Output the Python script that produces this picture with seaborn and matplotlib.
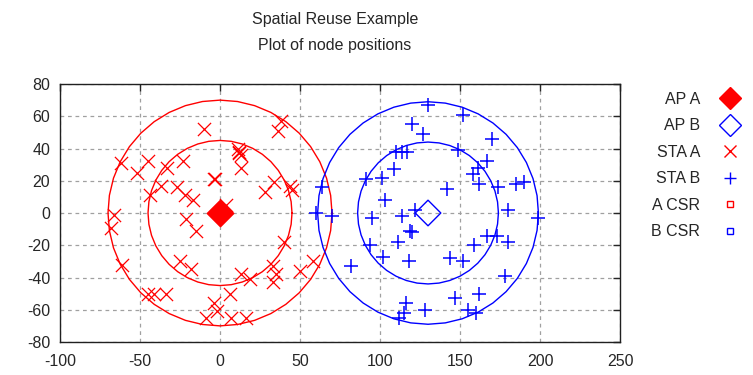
import numpy as np
import pandas as pd
import matplotlib
matplotlib.use("Agg")
import matplotlib.pyplot as plt
from matplotlib.lines import Line2D
import seaborn as sns

# Access point positions
ap_a = (0, 0)
ap_b = (130, 0)

# Stations associated with AP A
sta_a_x = [-10, 38, 36, 11, 12, 13, 12, 13, -4, -3, -62, -52, -45, -33, -23, -37, -44,
           -27, -22, -17, 34, 28, 44, 45, 4, -66, -68, -21, -15, 40, -61, -25, -18, 13,
           19, 33, 35, 33, 50, 58, -45, -41, -34, -4, 6, -9, -2, 7, 16]
sta_a_y = [52, 57, 51, 40, 38, 36, 37, 28, 21, 21, 31, 25, 32, 28, 32, 17, 11,
           16, 11, 8, 19, 13, 17, 14, 5, -1, -9, -4, -11, -18, -32, -30, -35, -38,
           -41, -33, -38, -43, -36, -30, -50, -50, -50, -56, -50, -65, -61, -65, -65]

# Stations associated with AP B
sta_b_x = [130, 152, 120, 127, 170, 149, 110, 114, 117, 109, 91, 101, 142, 103, 167, 161,
           158, 162, 174, 185, 190, 180, 64, 60, 70, 122, 114, 95, 199, 119, 120, 111,
           94, 102, 118, 82, 144, 152, 159, 167, 173, 180, 178, 147, 162, 116, 115, 112,
           128, 155, 160]
sta_b_y = [67, 61, 55, 49, 46, 39, 38, 38, 38, 27, 21, 22, 15, 8, 32, 28,
           24, 18, 16, 18, 19, 2, 16, 0, -2, 2, -2, -3, -3, -11, -12, -18,
           -20, -27, -30, -33, -28, -30, -20, -14, -14, -18, -39, -53, -50, -56, -62, -65,
           -60, -60, -62]

# Carrier-sense ranges (inner and outer) around each AP
csr_a_radii = [45, 70]
csr_b_radii = [44, 69]

x_ticks = [-100, -50, 0, 50, 100, 150, 200, 250]
y_ticks = [-80, -60, -40, -20, 0, 20, 40, 60, 80]

RED = "#ff0000"
BLUE = "#0000ff"

sns.set_style("white")
plt.rcParams["font.family"] = ["Liberation Sans", "DejaVu Sans"]
plt.rcParams["axes.unicode_minus"] = False

fig = plt.figure(figsize=(7.53, 3.75), dpi=100)
ax = fig.add_axes([0.0797, 0.088, 0.7437, 0.688])


def circle_frame(center, radius, n=41):
    t = np.linspace(0, 2 * np.pi, n)
    return pd.DataFrame({"x": center[0] + radius * np.cos(t),
                         "y": center[1] + radius * np.sin(t)})


for r in csr_a_radii:
    sns.lineplot(data=circle_frame(ap_a, r), x="x", y="y", sort=False,
                 color=RED, lw=1.0, ax=ax, estimator=None)
for r in csr_b_radii:
    sns.lineplot(data=circle_frame(ap_b, r), x="x", y="y", sort=False,
                 color=BLUE, lw=1.0, ax=ax, estimator=None)

sns.scatterplot(x=sta_a_x, y=sta_a_y, marker="x", color=RED, s=90,
                linewidth=0.9, ax=ax, zorder=3)
sns.scatterplot(x=sta_b_x, y=sta_b_y, marker="+", color=BLUE, s=100,
                linewidth=1.1, ax=ax, zorder=3)

sns.scatterplot(x=[ap_a[0]], y=[ap_a[1]], marker="D", color=RED, s=180,
                edgecolor=RED, ax=ax, zorder=4)
sns.scatterplot(x=[ap_b[0]], y=[ap_b[1]], marker="D", facecolor="none",
                edgecolor=BLUE, s=170, linewidth=1.0, ax=ax, zorder=4)

ax.set_xlim(-100, 250)
ax.set_ylim(-80, 80)
ax.set_xticks(x_ticks)
ax.set_yticks(y_ticks)
ax.set_xlabel("")
ax.set_ylabel("")
ax.grid(True, color="#a0a0a0", linestyle=(0, (3, 3)), linewidth=0.9)
ax.tick_params(axis="both", direction="in", length=5, width=1, labelsize=11.5,
               top=True, right=True, labeltop=False, labelright=False)
ax.tick_params(axis="x", pad=9)
ax.tick_params(axis="y", pad=7)
for side in ax.spines.values():
    side.set_color("#202020")
    side.set_linewidth(1.0)

fig.text(0.445, 0.968, "Spatial Reuse Example\nPlot of node positions",
         ha="center", va="top", fontsize=11.5, linespacing=1.95)

handles = [
    Line2D([], [], ls="none", marker="D", color=RED, markersize=11),
    Line2D([], [], ls="none", marker="D", markerfacecolor="none",
           markeredgecolor=BLUE, markersize=11),
    Line2D([], [], ls="none", marker="x", color=RED, markersize=8),
    Line2D([], [], ls="none", marker="+", color=BLUE, markersize=9),
    Line2D([], [], ls="none", marker="s", markerfacecolor="none",
           markeredgecolor=RED, markersize=5),
    Line2D([], [], ls="none", marker="s", markerfacecolor="none",
           markeredgecolor=BLUE, markersize=5),
]
labels = ["AP A", "AP B", "STA A", "STA B", "A CSR", "B CSR"]
leg = ax.legend(handles, labels, loc="upper left", bbox_to_anchor=(1.03, 1.025),
                frameon=False, markerfirst=False, fontsize=11.5,
                labelspacing=0.72, handlelength=1.2, handletextpad=1.3)

fig.savefig("out.png", dpi=100)
